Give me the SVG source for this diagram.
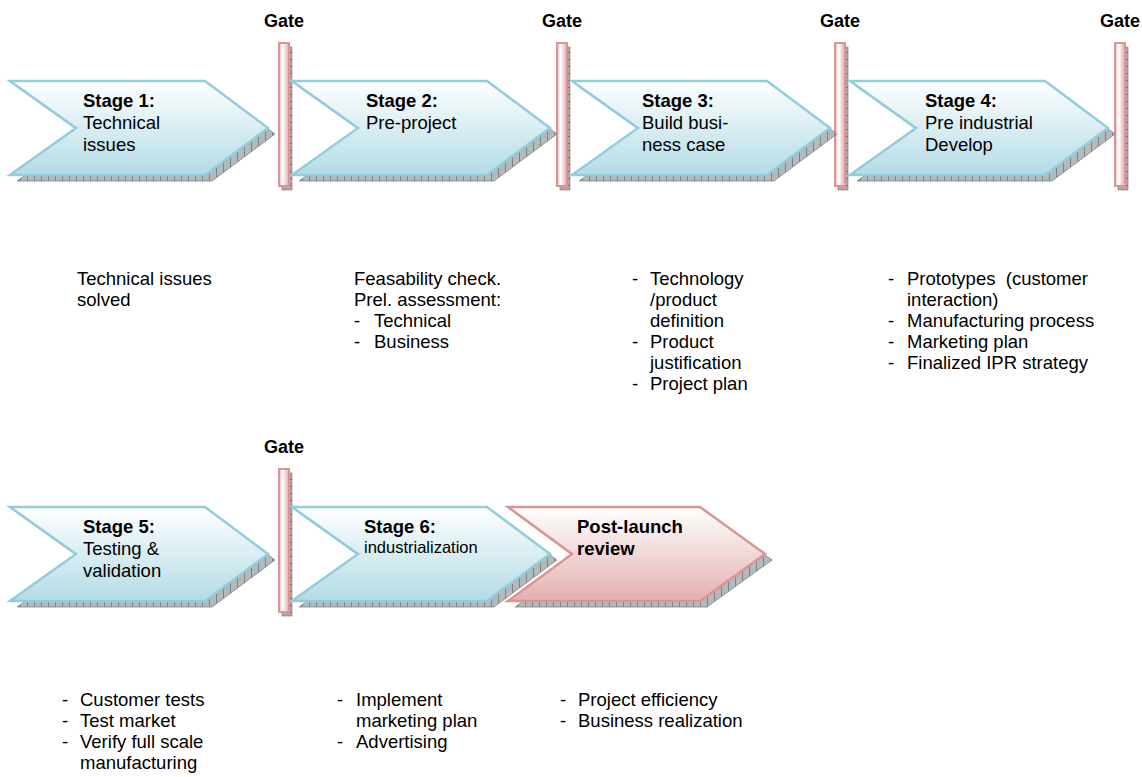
<svg xmlns="http://www.w3.org/2000/svg" width="1142" height="777" viewBox="0 0 1142 777">
<defs>
  <linearGradient id="blueGrad" x1="0" y1="0" x2="0" y2="1">
    <stop offset="0" stop-color="#ffffff"/>
    <stop offset="1" stop-color="#b3dbe6"/>
  </linearGradient>
  <linearGradient id="pinkGrad" x1="0" y1="0" x2="0" y2="1">
    <stop offset="0" stop-color="#ffffff"/>
    <stop offset="1" stop-color="#e3b0af"/>
  </linearGradient>
  <linearGradient id="gateGrad" x1="0" y1="0" x2="1" y2="0">
    <stop offset="0" stop-color="#e6b3b2"/>
    <stop offset="0.35" stop-color="#ffffff"/>
    <stop offset="1" stop-color="#e3aaa9"/>
  </linearGradient>
  <pattern id="hatch" width="7" height="7" patternUnits="userSpaceOnUse">
    <rect width="7" height="7" fill="#b4b9bb"/>
    <line x1="3.5" y1="0" x2="3.5" y2="7" stroke="#6f7577" stroke-width="0.8"/>
  </pattern>
  <pattern id="hatchPink" width="7" height="7" patternUnits="userSpaceOnUse">
    <rect width="7" height="7" fill="#b9a4a4"/>
    <line x1="0" y1="3.5" x2="7" y2="3.5" stroke="#7a5e5e" stroke-width="0.8"/>
  </pattern>
</defs>
<style>
  .arrow { fill: url(#blueGrad); stroke: #92cddc; stroke-width: 2.5; stroke-linejoin: miter; }
  .arrowPink { fill: url(#pinkGrad); stroke: #d99594; stroke-width: 2.5; }
  .shadow { fill: url(#hatch); stroke: #7d8587; stroke-width: 0.8; }
  .gate { fill: url(#gateGrad); stroke: #d99594; stroke-width: 2; }
  .gateShadow { fill: url(#hatchPink); stroke: #8a6f6f; stroke-width: 0.6; }
  text { font-family: "Liberation Sans", Arial, sans-serif; fill: #000; }
  .title { font-size: 18.5px; font-weight: bold; }
  .body { font-size: 18.5px; }
  .small { font-size: 16.5px; }
  .gateLabel { font-size: 18px; font-weight: bold; text-anchor: middle; }
</style>

<!-- Row 1 gates -->
<g id="gate1">
  <rect class="gateShadow" x="282" y="47" width="10" height="143"/>
  <rect class="gate" x="279" y="43" width="10" height="143"/>
  <text class="gateLabel" x="284" y="27">Gate</text>
</g>
<g id="gate2">
  <rect class="gateShadow" x="560" y="47" width="10" height="143"/>
  <rect class="gate" x="557" y="43" width="10" height="143"/>
  <text class="gateLabel" x="562" y="27">Gate</text>
</g>
<g id="gate3">
  <rect class="gateShadow" x="838" y="47" width="10" height="143"/>
  <rect class="gate" x="835" y="43" width="10" height="143"/>
  <text class="gateLabel" x="840" y="27">Gate</text>
</g>
<g id="gate4">
  <rect class="gateShadow" x="1118" y="47" width="10" height="143"/>
  <rect class="gate" x="1115" y="43" width="10" height="143"/>
  <text class="gateLabel" x="1120" y="27">Gate</text>
</g>

<!-- Row 1 stages -->
<g id="stage1" transform="translate(10,81)">
  <polygon class="shadow" points="7,6 202,6 265,53 202,100 7,100 73,53"/>
  <polygon class="arrow" points="0,0 195,0 258,47 195,94 0,94 66,47"/>
  <text class="title" x="73" y="26">Stage 1:</text>
  <text class="body" x="73" y="48">Technical</text>
  <text class="body" x="73" y="70">issues</text>
</g>
<g id="stage2" transform="translate(292,81)">
  <polygon class="shadow" points="7,6 202,6 265,53 202,100 7,100 73,53"/>
  <polygon class="arrow" points="0,0 195,0 258,47 195,94 0,94 66,47"/>
  <text class="title" x="74" y="26">Stage 2:</text>
  <text class="body" x="74" y="48">Pre-project</text>
</g>
<g id="stage3" transform="translate(572,81)">
  <polygon class="shadow" points="7,6 202,6 265,53 202,100 7,100 73,53"/>
  <polygon class="arrow" points="0,0 195,0 258,47 195,94 0,94 66,47"/>
  <text class="title" x="70" y="26">Stage 3:</text>
  <text class="body" x="70" y="48">Build busi-</text>
  <text class="body" x="70" y="70">ness case</text>
</g>
<g id="stage4" transform="translate(850,81)">
  <polygon class="shadow" points="7,6 202,6 265,53 202,100 7,100 73,53"/>
  <polygon class="arrow" points="0,0 195,0 258,47 195,94 0,94 66,47"/>
  <text class="title" x="75" y="26">Stage 4:</text>
  <text class="body" x="75" y="48">Pre industrial</text>
  <text class="body" x="75" y="70">Develop</text>
</g>

<!-- Row 1 descriptions -->
<g id="desc1">
  <text class="body" x="77" y="285">Technical issues</text>
  <text class="body" x="77" y="306">solved</text>
</g>
<g id="desc2">
  <text class="body" x="354" y="285">Feasability check.</text>
  <text class="body" x="354" y="306">Prel. assessment:</text>
  <text class="body" x="354" y="327">-</text><text class="body" x="374" y="327">Technical</text>
  <text class="body" x="354" y="348">-</text><text class="body" x="374" y="348">Business</text>
</g>
<g id="desc3">
  <text class="body" x="632" y="285">-</text><text class="body" x="650" y="285">Technology</text>
  <text class="body" x="650" y="306">/product</text>
  <text class="body" x="650" y="327">definition</text>
  <text class="body" x="632" y="348">-</text><text class="body" x="650" y="348">Product</text>
  <text class="body" x="650" y="369">justification</text>
  <text class="body" x="632" y="390">-</text><text class="body" x="650" y="390">Project plan</text>
</g>
<g id="desc4">
  <text class="body" x="888" y="285">-</text><text class="body" x="907" y="285" xml:space="preserve">Prototypes  (customer</text>
  <text class="body" x="907" y="306">interaction)</text>
  <text class="body" x="888" y="327">-</text><text class="body" x="907" y="327">Manufacturing process</text>
  <text class="body" x="888" y="348">-</text><text class="body" x="907" y="348">Marketing plan</text>
  <text class="body" x="888" y="369">-</text><text class="body" x="907" y="369">Finalized IPR strategy</text>
</g>

<!-- Row 2 -->
<g id="gate5">
  <rect class="gateShadow" x="282" y="473" width="10" height="143"/>
  <rect class="gate" x="279" y="469" width="10" height="143"/>
  <text class="gateLabel" x="284" y="453">Gate</text>
</g>
<g id="stage5" transform="translate(10,507)">
  <polygon class="shadow" points="7,6 202,6 265,53 202,100 7,100 73,53"/>
  <polygon class="arrow" points="0,0 195,0 258,47 195,94 0,94 66,47"/>
  <text class="title" x="73" y="26">Stage 5:</text>
  <text class="body" x="73" y="48">Testing &amp;</text>
  <text class="body" x="73" y="70">validation</text>
</g>
<g id="stage6" transform="translate(292,507)">
  <polygon class="shadow" points="7,6 202,6 265,53 202,100 7,100 73,53"/>
  <polygon class="arrow" points="0,0 195,0 258,47 195,94 0,94 66,47"/>
  <text class="title" x="72" y="26">Stage 6:</text>
  <text class="small" x="72" y="46">industrialization</text>
</g>
<g id="postlaunch" transform="translate(508,507)">
  <polygon class="shadow" points="7,6 199,6 264,53 199,100 7,100 71,53"/>
  <polygon class="arrowPink" points="0,0 192,0 257,47 192,94 0,94 64,47"/>
  <text class="title" x="69" y="26">Post-launch</text>
  <text class="title" x="69" y="48">review</text>
</g>

<g id="desc5">
  <text class="body" x="62" y="706">-</text><text class="body" x="80" y="706">Customer tests</text>
  <text class="body" x="62" y="727">-</text><text class="body" x="80" y="727">Test market</text>
  <text class="body" x="62" y="748">-</text><text class="body" x="80" y="748">Verify full scale</text>
  <text class="body" x="80" y="769">manufacturing</text>
</g>
<g id="desc6">
  <text class="body" x="337" y="706">-</text><text class="body" x="356" y="706">Implement</text>
  <text class="body" x="356" y="727">marketing plan</text>
  <text class="body" x="337" y="748">-</text><text class="body" x="356" y="748">Advertising</text>
</g>
<g id="desc7">
  <text class="body" x="560" y="706">-</text><text class="body" x="578" y="706">Project efficiency</text>
  <text class="body" x="560" y="727">-</text><text class="body" x="578" y="727">Business realization</text>
</g>

<g id="connectors"></g>
</svg>
